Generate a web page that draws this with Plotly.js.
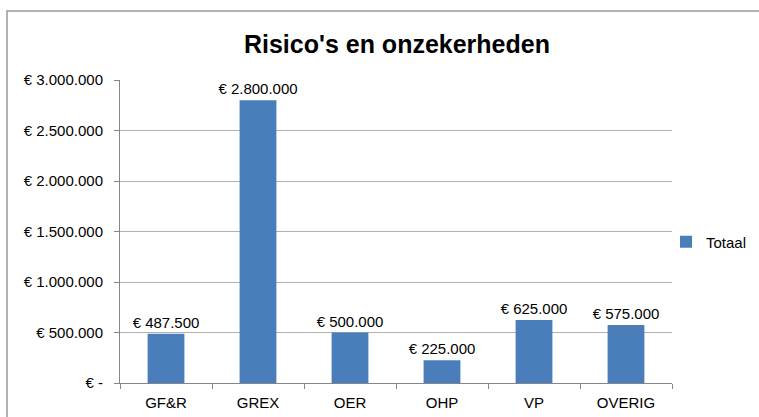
<!DOCTYPE html>
<html>
<head>
<meta charset="utf-8">
<script src="https://cdn.plot.ly/plotly-3.0.1.min.js"></script>
<style>html,body{margin:0;padding:0;background:#fff;}#chart{width:759px;height:417px;}</style>
</head>
<body>
<div id="chart"></div>
<script>
var categories = ["GF&R", "GREX", "OER", "OHP", "VP", "OVERIG"];
var totaal = [487500, 2800000, 500000, 225000, 625000, 575000];
var yTickVals = [0, 500000, 1000000, 1500000, 2000000, 2500000, 3000000];
var yTickText = ["€ -", "€ 500.000", "€ 1.000.000", "€ 1.500.000", "€ 2.000.000", "€ 2.500.000", "€ 3.000.000"];

function fmt(v) {
  return "€ " + String(v).replace(/\B(?=(\d{3})+(?!\d))/g, ".");
}

var FONT = "Liberation Sans, Arial, sans-serif";
var L = 120, R = 87, T = 80, B = 34;
var W = 759 - L - R, H = 417 - T - B;
function px(x) { return (x - L) / W; }
function py(y) { return (417 - B - y) / H; }

var trace = {
  type: "bar",
  name: "Totaal",
  x: categories,
  y: totaal,
  text: totaal.map(fmt),
  textposition: "outside",
  constraintext: "none",
  textfont: {family: FONT, size: 15, color: "#000"},
  cliponaxis: false,
  marker: {color: "#4A7EBB", line: {width: 0}},
  width: 0.4,
  hoverinfo: "x+y"
};

var layout = {
  width: 759, height: 417,
  margin: {l: L, r: R, t: T, b: B, autoexpand: false},
  paper_bgcolor: "#fff", plot_bgcolor: "#fff",
  font: {family: FONT, size: 15, color: "#000"},
  title: {text: "<b>Risico's en onzekerheden</b>", font: {family: FONT, size: 25, color: "#000"}, x: 0.523, xanchor: "center", y: 0.895, yanchor: "middle"},
  showlegend: true,
  legend: {x: px(666), xanchor: "left", y: py(242), yanchor: "middle", font: {family: FONT, size: 15}, itemwidth: 30, bgcolor: "rgba(0,0,0,0)"},
  xaxis: {
    type: "category",
    tickson: "boundaries",
    ticks: "outside", ticklen: 5, tickcolor: "#868686",
    showline: true, linecolor: "#868686", linewidth: 1,
    showgrid: false,
    tickfont: {family: FONT, size: 15},
    ticklabelstandoff: 6,
    fixedrange: true
  },
  yaxis: {
    range: [0, 3000000],
    tickvals: yTickVals, ticktext: yTickText,
    ticks: "outside", ticklen: 5, tickcolor: "#868686",
    showline: true, linecolor: "#868686", linewidth: 1,
    showgrid: true, gridcolor: "#B0B0B0", gridwidth: 1,
    zeroline: false,
    tickfont: {family: FONT, size: 15},
    ticklabelstandoff: 8,
    fixedrange: true
  },
  bargap: 0.6,
  shapes: [{
    type: "rect", xref: "paper", yref: "paper",
    x0: px(7), x1: px(765), y0: py(11), y1: py(425),
    line: {color: "#9A9A9A", width: 1.5}, fillcolor: "rgba(0,0,0,0)", layer: "below"
  }]
};

Plotly.newPlot("chart", [trace], layout, {displayModeBar: false, staticPlot: true});
</script>
</body>
</html>
